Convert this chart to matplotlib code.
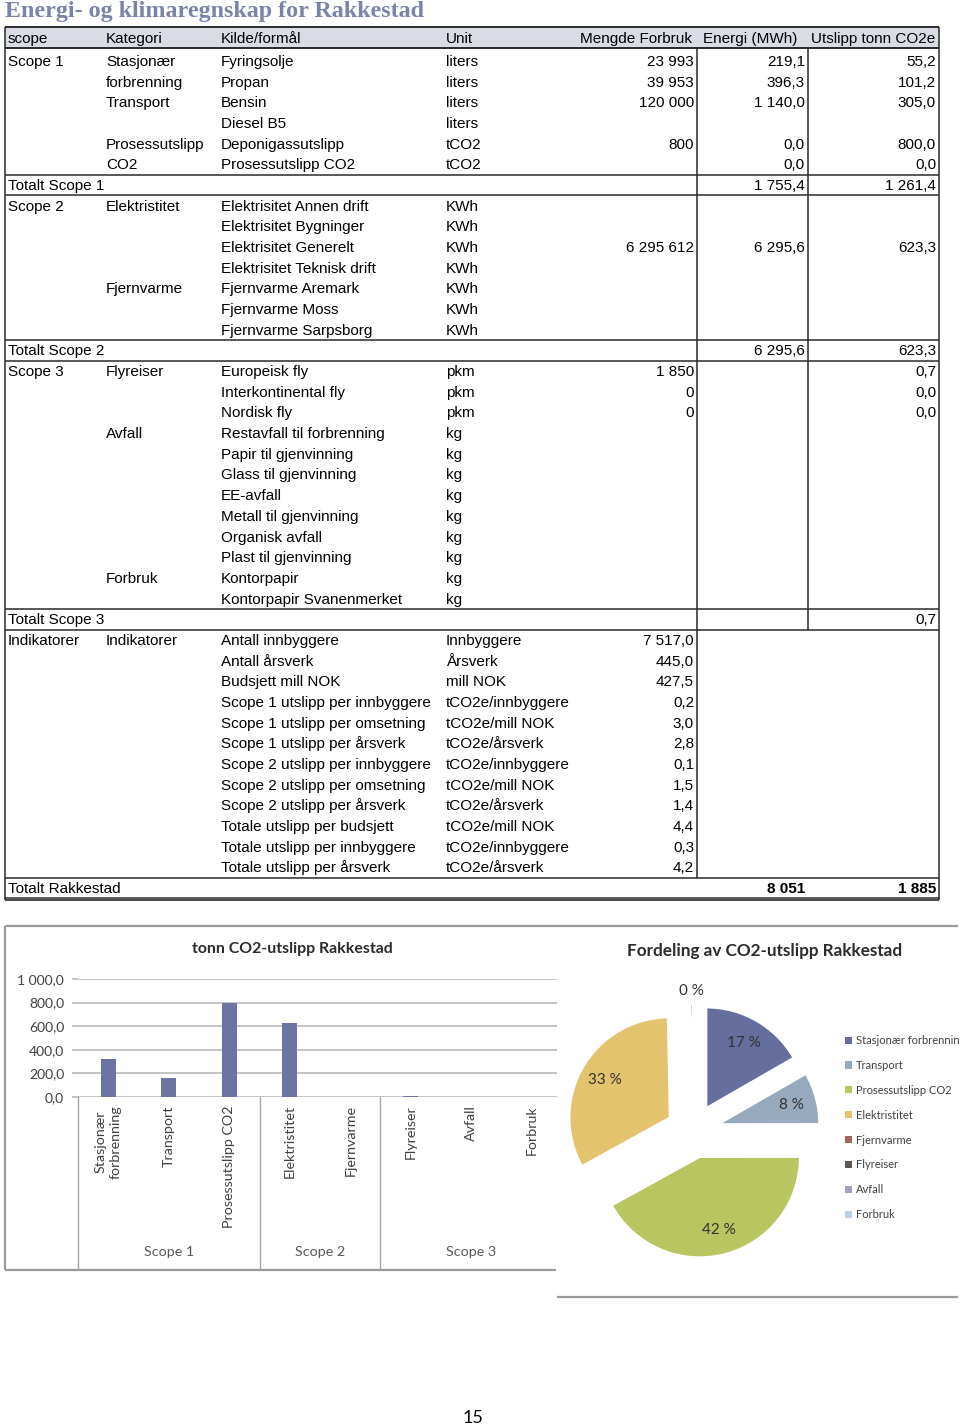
import matplotlib
matplotlib.use("Agg")
import matplotlib.pyplot as plt
import numpy as np
from matplotlib.patches import Rectangle

# ---- table data ----
TITLE = "Energi- og klimaregnskap for Rakkestad"
HEADERS = ["scope", "Kategori", "Kilde/formål", "Unit",
           "Mengde Forbruk", "Energi (MWh)", "Utslipp tonn CO2e"]

scope_col = (["Scope 1"] + [""] * 5 + ["Totalt Scope 1"]
             + ["Scope 2"] + [""] * 6 + ["Totalt Scope 2"]
             + ["Scope 3"] + [""] * 11 + ["Totalt Scope 3"]
             + ["Indikatorer"] + [""] * 11
             + ["Totalt Rakkestad"])
kategori_col = (["Stasjonær", "forbrenning", "Transport", "", "Prosessutslipp", "CO2", ""]
                + ["Elektristitet", "", "", "", "Fjernvarme", "", "", ""]
                + ["Flyreiser", "", "", "Avfall", "", "", "", "", "", "", "Forbruk", "", ""]
                + ["Indikatorer"] + [""] * 11
                + [""])
kilde_col = (["Fyringsolje", "Propan", "Bensin", "Diesel B5", "Deponigassutslipp",
              "Prosessutslipp CO2", ""]
             + ["Elektrisitet Annen drift", "Elektrisitet Bygninger", "Elektrisitet Generelt",
                "Elektrisitet Teknisk drift", "Fjernvarme Aremark", "Fjernvarme Moss",
                "Fjernvarme Sarpsborg", ""]
             + ["Europeisk fly", "Interkontinental fly", "Nordisk fly",
                "Restavfall til forbrenning", "Papir til gjenvinning", "Glass til gjenvinning",
                "EE-avfall", "Metall til gjenvinning", "Organisk avfall", "Plast til gjenvinning",
                "Kontorpapir", "Kontorpapir Svanenmerket", ""]
             + ["Antall innbyggere", "Antall årsverk", "Budsjett mill NOK",
                "Scope 1 utslipp per innbyggere", "Scope 1 utslipp per omsetning",
                "Scope 1 utslipp per årsverk", "Scope 2 utslipp per innbyggere",
                "Scope 2 utslipp per omsetning", "Scope 2 utslipp per årsverk",
                "Totale utslipp per budsjett", "Totale utslipp per innbyggere",
                "Totale utslipp per årsverk"]
             + [""])
unit_col = (["liters"] * 4 + ["tCO2"] * 2 + [""]
            + ["KWh"] * 7 + [""]
            + ["pkm"] * 3 + ["kg"] * 9 + [""]
            + ["Innbyggere", "Årsverk", "mill NOK",
               "tCO2e/innbyggere", "tCO2e/mill NOK", "tCO2e/årsverk",
               "tCO2e/innbyggere", "tCO2e/mill NOK", "tCO2e/årsverk",
               "tCO2e/mill NOK", "tCO2e/innbyggere", "tCO2e/årsverk"]
            + [""])
mengde_col = (["23 993", "39 953", "120 000", "", "800", "", ""]
              + ["", "", "6 295 612", "", "", "", "", ""]
              + ["1 850", "0", "0"] + [""] * 10
              + ["7 517,0", "445,0", "427,5", "0,2", "3,0", "2,8",
                 "0,1", "1,5", "1,4", "4,4", "0,3", "4,2"]
              + [""])
energi_col = (["219,1", "396,3", "1 140,0", "", "0,0", "0,0", "1 755,4"]
              + ["", "", "6 295,6", "", "", "", "", "6 295,6"]
              + [""] * 13
              + [""] * 12
              + ["8 051"])
utslipp_col = (["55,2", "101,2", "305,0", "", "800,0", "0,0", "1 261,4"]
               + ["", "", "623,3", "", "", "", "", "623,3"]
               + ["0,7", "0,0", "0,0"] + [""] * 9 + ["0,7"]
               + [""] * 12
               + ["1 885"])

# ---- chart data ----
categories = ["Stasjonær\nforbrenning", "Transport", "Prosessutslipp CO2", "Elektristitet",
              "Fjernvarme", "Flyreiser", "Avfall", "Forbruk"]
legend_labels = ["Stasjonær forbrenning", "Transport", "Prosessutslipp CO2", "Elektristitet",
                 "Fjernvarme", "Flyreiser", "Avfall", "Forbruk"]
co2_tonn = [318, 158, 800, 623, 0, 6, 0, 0]
groups = ["Scope 1", "Scope 2", "Scope 3"]
group_sizes = [3, 2, 3]
pie_colors = ["#656e9d", "#97aabd", "#b8c560", "#e3c36e",
              "#a5665d", "#5e5650", "#9fa0c6", "#bcd0e3"]

# ---- layout (pixels) ----
W, H = 960, 1428
T_LEFT, T_RIGHT = 5, 939
HEAD_TOP, HEAD_BOT = 27, 48
ROW0, PITCH = 61, 20.675
COL_X = [8, 106, 221, 446]
RIGHT_X = [694, 805, 936]
VLINE_A, VLINE_B = 697, 808
SANS = "Liberation Sans"
CHART_FONT = "Lato"

fig = plt.figure(figsize=(W / 100, H / 100), dpi=100)
page = fig.add_axes([0, 0, 1, 1])
page.set_xlim(0, W)
page.set_ylim(H, 0)
page.axis("off")

page.text(5, 17.5, TITLE, fontsize=17.3, fontweight="bold", family="Liberation Serif",
          color="#7b84a8", va="baseline")

# header
page.add_patch(Rectangle((T_LEFT, HEAD_TOP), T_RIGHT - T_LEFT, HEAD_BOT - HEAD_TOP,
                         facecolor="#dadce5", edgecolor="none"))
for x, h in zip(COL_X, HEADERS[:4]):
    page.text(x, 43, h, fontsize=11, family=SANS, va="baseline")
for x, h in zip([692, 797, 935], HEADERS[4:]):
    page.text(x, 43, h, fontsize=11, family=SANS, va="baseline", ha="right")

n = len(scope_col)
row_y = ROW0 + PITCH * np.arange(n)
top_of = lambda i: row_y[i] - PITCH / 2
bot_of = lambda i: row_y[i] + PITCH / 2

for i in range(n):
    yb = row_y[i] + 5
    for x, col in zip(COL_X, [scope_col, kategori_col, kilde_col, unit_col]):
        if col[i]:
            page.text(x, yb, col[i], fontsize=11, family=SANS, va="baseline")
    bold = scope_col[i] == "Totalt Rakkestad"
    for x, col in zip(RIGHT_X, [mengde_col, energi_col, utslipp_col]):
        if col[i]:
            page.text(x, yb, col[i], fontsize=11, family=SANS, va="baseline", ha="right",
                      fontweight="bold" if bold else "normal")

lc, lw = "#2a2a2a", 1.1
totals = [i for i in range(n) if scope_col[i].startswith("Totalt")]
last = n - 1
page.hlines([HEAD_TOP, HEAD_BOT], T_LEFT, T_RIGHT, color=lc, lw=1.4)
for i in totals:
    page.hlines([top_of(i), bot_of(i)], T_LEFT, T_RIGHT, color=lc, lw=lw)
page.hlines(bot_of(last) + 1.5, T_LEFT, T_RIGHT, color=lc, lw=1.2)
page.vlines([T_LEFT, T_RIGHT], HEAD_TOP, bot_of(last) + 1.5, color=lc, lw=lw)
scope3_total = totals[2]
page.vlines(VLINE_A, HEAD_BOT, top_of(last), color=lc, lw=lw)
page.vlines(VLINE_B, HEAD_BOT, bot_of(scope3_total), color=lc, lw=lw)

# chart frames
fc = "#9a9a9a"
page.hlines(926, 5, 958, color=fc, lw=1.6)
page.vlines(5, 926, 1270, color=fc, lw=1.6)
page.hlines(1270, 5, 556, color=fc, lw=1.6)
page.hlines(1297, 557, 958, color=fc, lw=1.6)

# ---- bar chart ----
PL, PR, PT, PB = 78, 557, 979, 1097
CAT_W = 60.5
bax = fig.add_axes([PL / W, 1 - PB / H, (PR - PL) / W, (PB - PT) / H])
x = np.arange(len(categories))
bax.bar(x, co2_tonn, width=0.24, color="#6b74a3", zorder=3)
bax.set_xlim(-0.5, -0.5 + (PR - PL) / CAT_W)
bax.set_ylim(0, 1000)
bax.set_yticks(np.arange(0, 1001, 200))
bax.set_yticklabels([f"{v:,.1f}".replace(",", " ").replace(".", ",")
                     for v in np.arange(0, 1001, 200)])
bax.yaxis.grid(True, color="#c4c4c4", lw=1.4)
bax.set_axisbelow(True)
for s in bax.spines.values():
    s.set_visible(False)
bax.tick_params(axis="y", length=4, color="#c4c4c4", width=1.4, pad=6,
                labelsize=10, labelcolor="#404040")
bax.set_xticks(x)
bax.set_xticklabels(categories, rotation=90, va="top", ha="center",
                    multialignment="center", fontsize=10.3, color="#404040",
                    linespacing=1.35)
bax.tick_params(axis="x", length=0, pad=6)
for lab in bax.get_xticklabels() + bax.get_yticklabels():
    lab.set_family(CHART_FONT)

trans = bax.get_xaxis_transform()
sep_depth = -(1268 - PB) / (PB - PT)
bounds = np.concatenate([[0], np.cumsum(group_sizes)]) - 0.5
for b in bounds[:-1]:
    bax.plot([b, b], [0, sep_depth], transform=trans, color="#a6a6a6", lw=1,
             clip_on=False)
label_y = -(1252 - PB) / (PB - PT)
for g, lo, hi in zip(groups, bounds[:-1], bounds[1:]):
    hi = min(hi, -0.5 + (562 - PL) / CAT_W)
    bax.text((lo + hi) / 2, label_y, g, transform=trans, ha="center", va="center",
             fontsize=10.3, color="#595959", family=CHART_FONT)

page.text(292, 949, "tonn CO2-utslipp Rakkestad", ha="center", va="center",
          fontsize=11.4, fontweight="bold", color="#2b2b2b", family=CHART_FONT)

# ---- pie chart ----
CX, CY, R = 693, 1131, 100
BOX = (556, 926, 958, 1297)
pax = fig.add_axes([BOX[0] / W, 1 - BOX[3] / H, (BOX[2] - BOX[0]) / W, (BOX[3] - BOX[1]) / H])
pax.patch.set_alpha(0)
wedges, _, autotexts = pax.pie(co2_tonn, colors=pie_colors, startangle=90, counterclock=False,
                               explode=[0.27] * len(co2_tonn), autopct=lambda p: f"{p:.0f} %",
                               pctdistance=0.75,
                               wedgeprops=dict(edgecolor="white", linewidth=1.2),
                               textprops=dict(fontsize=11, color="#333333", family=CHART_FONT))
pax.set_aspect("auto")
pax.set_xlim((BOX[0] - CX) / R, (BOX[2] - CX) / R)
pax.set_ylim((CY - BOX[3]) / R, (CY - BOX[1]) / R)
pax.axis("off")
total = sum(co2_tonn)
for w, t, v in zip(wedges, autotexts, co2_tonn):
    if v == 0:
        t.set_text("")
    elif v / total < 0.01:
        th = np.deg2rad((w.theta1 + w.theta2) / 2)
        cx, cy = w.center
        t.set_position((cx + 1.13 * np.cos(th), cy + 1.13 * np.sin(th)))

leg = pax.legend(wedges, legend_labels, loc="upper left",
                 bbox_to_anchor=(845 / W, 1 - 1035 / H), bbox_transform=fig.transFigure,
                 frameon=False, prop=dict(family=CHART_FONT, size=8), labelcolor="#404040",
                 handlelength=0.6, handleheight=0.6, handletextpad=0.35, labelspacing=1.25,
                 borderpad=0, borderaxespad=0)
for h in leg.legend_handles:
    h.set_edgecolor("none")

page.text(765, 951, "Fordeling av CO2-utslipp Rakkestad", ha="center", va="center",
          fontsize=12.3, fontweight="bold", color="#2b2b2b", family=CHART_FONT)

page.text(473, 1418, "15", ha="center", va="center", fontsize=13, family=CHART_FONT)

fig.savefig("out.png", dpi=100)
